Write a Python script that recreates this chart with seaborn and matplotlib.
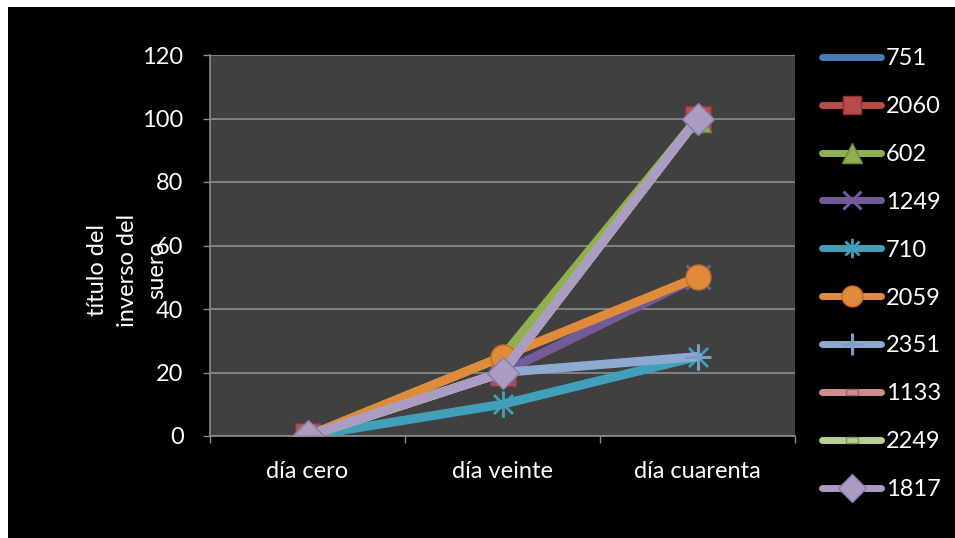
import matplotlib
matplotlib.use("Agg")
import matplotlib.pyplot as plt
import seaborn as sns
from matplotlib.path import Path
from matplotlib.patches import Rectangle
from matplotlib.lines import Line2D

# Categories (x axis) and y ticks
dias = ["día cero", "día veinte", "día cuarenta"]
y_ticks = [0, 20, 40, 60, 80, 100, 120]

# Serum titre per sample
sueros = ["751", "2060", "602", "1249", "710", "2059", "2351", "1133", "2249", "1817"]
s751 = [0, 20, 100]
s2060 = [0, 20, 100]
s602 = [0, 25, 100]
s1249 = [0, 20, 50]
s710 = [0, 10, 25]
s2059 = [0, 25, 50]
s2351 = [0, 20, 25]
s1133 = [0, 20, 100]
s2249 = [0, 20, 100]
s1817 = [0, 20, 100]
valores = [s751, s2060, s602, s1249, s710, s2059, s2351, s1133, s2249, s1817]

# Marker shapes
asterisco = Path([(0, -1), (0, 1), (-0.72, -0.72), (0.72, 0.72), (-0.72, 0.72), (0.72, -0.72)],
                 [Path.MOVETO, Path.LINETO, Path.MOVETO, Path.LINETO, Path.MOVETO, Path.LINETO])
guion = Path([(-1, -0.42), (1, -0.42), (1, 0.42), (-1, 0.42), (-1, -0.42)],
             [Path.MOVETO, Path.LINETO, Path.LINETO, Path.LINETO, Path.CLOSEPOLY])

estilos = {
    "751":  dict(color="#4a7ab5", marker=None, ms=0, mec="#4a7ab5", mew=1, lms=0),
    "2060": dict(color="#b84c49", marker="s", ms=19, mec="#8e3431", mew=1, lms=13),
    "602":  dict(color="#8fb04f", marker="^", ms=19, mec="#6d8a38", mew=1, lms=15),
    "1249": dict(color="#735a98", marker="x", ms=17, mec="#735a98", mew=2.2, lms=13),
    "710":  dict(color="#419fba", marker=asterisco, ms=19, mec="#419fba", mew=2.0, lms=14),
    "2059": dict(color="#e08a3c", marker="o", ms=18, mec="#c06d22", mew=1, lms=15),
    "2351": dict(color="#8eaad3", marker="+", ms=19, mec="#7f9cc9", mew=2.2, lms=16),
    "1133": dict(color="#d08f8d", marker=guion, ms=10, mec="#9a6563", mew=1, lms=9),
    "2249": dict(color="#b9cf8f", marker=guion, ms=10, mec="#7f9360", mew=1, lms=9),
    "1817": dict(color="#aa9cc2", marker="D", ms=16, mec="#8a7aa6", mew=1, lms=14),
}

sns.set_theme(style="dark")
plt.rcParams["font.family"] = ["Lato", "DejaVu Sans"]

fig = plt.figure(figsize=(9.55, 5.38), dpi=100, facecolor="white")
fig.patches.append(Rectangle((8 / 955, 0), 1, 1 - 7 / 538, transform=fig.transFigure,
                             facecolor="black", edgecolor="none", zorder=-10))

ax = fig.add_axes([210 / 955, 1 - 436 / 538, 585 / 955, 381 / 538])
ax.set_facecolor("#404040")

for nombre, vals in zip(sueros, valores):
    e = estilos[nombre]
    kw = dict(marker=e["marker"], markersize=e["ms"], markeredgecolor=e["mec"],
              markeredgewidth=e["mew"]) if e["marker"] is not None else {}
    if e["marker"] is not None and e["marker"] not in ("x", "+"):
        kw["markerfacecolor"] = e["color"]
    sns.lineplot(x=dias, y=vals, ax=ax, color=e["color"], linewidth=6.5, sort=False,
                 solid_capstyle="round", solid_joinstyle="round", **kw)

ax.set_ylim(0, 120)
ax.set_xlim(-0.5, 2.5)
ax.set_yticks(y_ticks)
ax.set_yticklabels([str(v) for v in y_ticks])
ax.set_xticks([-0.5, 0.5, 1.5, 2.5])
ax.set_xticklabels([])
ax.set_xticks([0, 1, 2], minor=True)
ax.set_xticklabels(dias, minor=True)
ax.grid(axis="y", color="#8c8c8c", linewidth=1.2)
ax.grid(axis="x", visible=False)
ax.set_axisbelow(True)
ax.tick_params(axis="y", which="major", length=5, width=1, color="#8c8c8c",
               labelcolor="white", labelsize=17, pad=14, left=True)
ax.tick_params(axis="x", which="major", length=5, width=1, color="#8c8c8c", bottom=True)
ax.tick_params(axis="x", which="minor", length=0, labelcolor="white", labelsize=17, pad=18)
for lado in ("top", "right"):
    ax.spines[lado].set_visible(False)
for lado in ("left", "bottom"):
    ax.spines[lado].set_visible(True)
    ax.spines[lado].set_color("#8c8c8c")
    ax.spines[lado].set_linewidth(1.2)
ax.set_xlabel("")
ax.set_ylabel("")

fig.text(127 / 955, 1 - 270 / 538, "título del\ninverso del\nsuero", rotation=90,
         ha="center", va="center", multialignment="center", color="white",
         fontsize=17, linespacing=1.5)

handles = []
for nombre in sueros:
    e = estilos[nombre]
    h = Line2D([], [], color=e["color"], linewidth=5, solid_capstyle="round",
               marker=e["marker"], markersize=e["lms"], markeredgecolor=e["mec"],
               markeredgewidth=e["mew"],
               markerfacecolor=e["color"] if e["marker"] not in ("x", "+") else "none")
    handles.append(h)

leg = fig.legend(handles, sueros, loc="upper left", bbox_to_anchor=(822 / 955, 1 - 48 / 538),
                 frameon=False, fontsize=17, labelcolor="white", handlelength=2.5,
                 handletextpad=0.2, labelspacing=1.14, borderpad=0, borderaxespad=0)

fig.savefig("out.png", dpi=100, facecolor=fig.get_facecolor())
